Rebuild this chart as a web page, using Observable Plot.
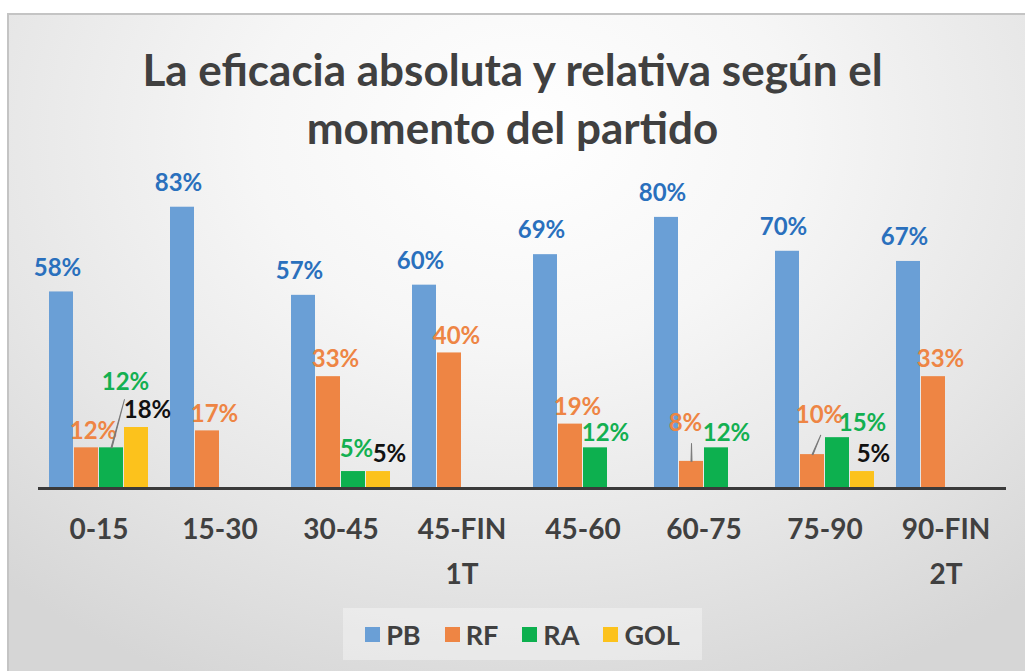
<!DOCTYPE html>
<html><head><meta charset="utf-8">
<script src="https://cdn.jsdelivr.net/npm/d3@7"></script>
<script src="https://cdn.jsdelivr.net/npm/@observablehq/plot@0.6"></script>
<style>
html,body{margin:0;padding:0;background:#fff;width:1025px;height:671px;overflow:hidden;font-family:Lato,"Open Sans",sans-serif;}
#frame{position:absolute;left:7px;top:13px;width:1030px;height:670px;border-left:2px solid #c4c4c4;border-top:2px solid #c4c4c4;
 background:radial-gradient(ellipse 75% 90% at 50% 18%, #ffffff 0%, #f6f6f6 35%, #e6e6e6 70%, #d6d6d6 100%);}
#title{position:absolute;left:0;top:40px;width:1025px;text-align:center;font-weight:700;font-size:44px;line-height:58px;color:#404040;}
#chart{position:absolute;left:0;top:150px;}
#legend{position:absolute;left:343px;top:608px;width:359px;height:52px;background:rgba(255,255,255,0.35);display:flex;align-items:center;justify-content:center;gap:0;}
.item{display:flex;align-items:center;font-weight:700;font-size:27px;color:#404040;margin:0 12px;}
.sw{width:15px;height:15px;margin-right:6px;}
</style></head>
<body>
<div id="frame"></div>
<div id="title">La eficacia absoluta y relativa según el<br>momento del partido</div>
<div id="chart"></div>
<div id="legend"></div>
<script>
const categories = ["0-15","15-30","30-45","45-FIN 1T","45-60","60-75","75-90","90-FIN 2T"];
const tickLabels = ["0-15","15-30","30-45","45-FIN\n1T","45-60","60-75","75-90","90-FIN\n2T"];
const seriesNames = ["PB","RF","RA","GOL"];
const PB  = [58, 83, 57, 60, 69, 80, 70, 67];
const RF  = [12, 17, 33, 40, 19, 8, 10, 33];
const RA  = [12, null, 5, null, 12, 12, 15, null];
const GOL = [18, null, 5, null, null, null, 5, null];

const barColors = {PB:"#6a9fd6", RF:"#ee8544", RA:"#0db04f", GOL:"#fcc21c"};
const labelColors = {PB:"#2a70bd", RF:"#ee8544", RA:"#13b051", GOL:"#111111"};
const nudge = {PB:[-4,-24], RF:[7,-17], RA:[10,-15], GOL:[11,-17]};
// moved labels (some with leader lines): label [dx, dy], leader [length px, angle deg]
const callouts = [
  {cat:"0-15", s:"RA", label:[14,-66], leader:[50,15]},
  {cat:"30-45", s:"RA", label:[3,-22], leader:null},
  {cat:"60-75", s:"RF", label:[-6,-38], leader:[18,0]},
  {cat:"75-90", s:"RF", label:[7,-39], leader:[21,23]},
  {cat:"75-90", s:"RA", label:[25,-14], leader:null}
];

const valuesBySeries = {PB, RF, RA, GOL};
const data = [];
for (const s of seriesNames) categories.forEach((c,i)=>{
  const v = valuesBySeries[s][i];
  if (v != null) data.push({cat:c, series:s, value:v});
});
const isCallout = d => callouts.some(o => o.cat===d.cat && o.s===d.series);
const tickMap = new Map(categories.map((c,i)=>[c, tickLabels[i]]));

const marks = [
  Plot.barY(data, {fx:"cat", x:"series", y:"value", fill: d=>barColors[d.series]}),
  Plot.ruleY([0], {stroke:"#3a3a3a", strokeWidth:3}),
];
for (const s of seriesNames) {
  marks.push(Plot.text(data.filter(d=>d.series===s && !isCallout(d)), {
    fx:"cat", x:"series", y:"value", text:d=>d.value+"%", fill:labelColors[s],
    dx:nudge[s][0], dy:nudge[s][1], fontSize:24, fontWeight:"bold", fontFamily:"Lato"
  }));
}
for (const o of callouts) {
  const sel = data.filter(d=>d.cat===o.cat && d.series===o.s);
  marks.push(Plot.text(sel, {fx:"cat", x:"series", y:"value", text:d=>d.value+"%", fill:labelColors[o.s],
    dx:o.label[0], dy:o.label[1], fontSize:24, fontWeight:"bold", fontFamily:"Lato"}));
  if (o.leader) marks.push(Plot.vector(sel, {fx:"cat", x:"series", y:"value", length:o.leader[0], rotate:o.leader[1],
    anchor:"start", shape:"spike", r:0.5, stroke:"#7a7a7a", fill:"#7a7a7a", strokeWidth:1}));
}
marks.push(Plot.axisFx({anchor:"bottom", tickSize:0, tickPadding:18, fontSize:28, fontWeight:"bold", fill:"#404040",
  lineHeight:1.62, tickFormat:d=>tickMap.get(d), label:null, fontFamily:"Lato"}));

const chart = Plot.plot({
  width:1025, height:420,
  marginLeft:36, marginRight:17, marginTop:33, marginBottom:82,
  style:{background:"transparent", overflow:"visible"},
  fx:{domain:categories, padding:0, label:null},
  x:{domain:seriesNames, paddingInner:0.06, paddingOuter:0.39, axis:null},
  y:{domain:[0,90], axis:null},
  marks
});
document.getElementById("chart").appendChild(chart);

const legend = document.getElementById("legend");
for (const s of seriesNames) {
  const it = document.createElement("div"); it.className="item";
  const sw = document.createElement("div"); sw.className="sw"; sw.style.background=barColors[s];
  it.appendChild(sw); it.appendChild(document.createTextNode(s));
  legend.appendChild(it);
}
</script>
</body></html>
